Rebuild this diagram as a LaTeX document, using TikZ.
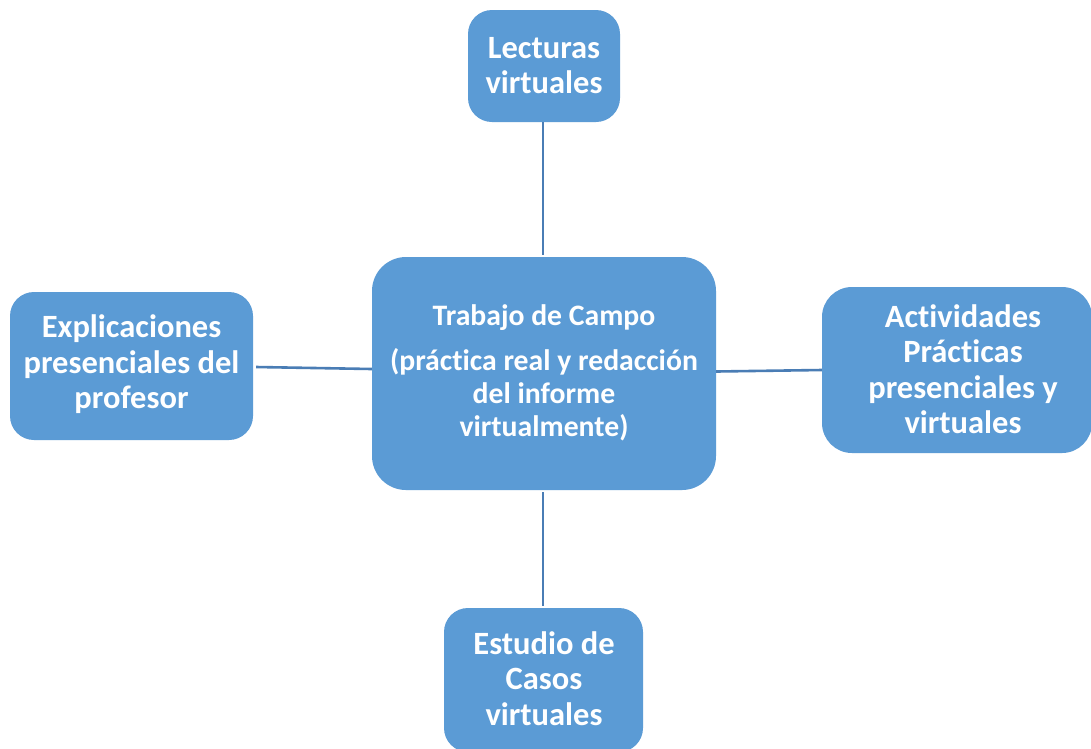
\documentclass[tikz,border=0pt]{standalone}
\usepackage{fontspec}
\setmainfont{Carlito}[RawFeature=-liga]
\definecolor{boxfill}{HTML}{5B9BD5}
\definecolor{linecol}{HTML}{4A7DB5}
\begin{document}
\begin{tikzpicture}[x=1pt,y=-1pt,
  box/.style={fill=boxfill,draw=none,rounded corners=#1,inner sep=0pt},
  box/.default=24pt,
  lbl/.style={text=white,align=center,font=\bfseries\fontsize{32.5}{35.5}\selectfont,inner sep=0pt},
  conn/.style={draw=linecol,line width=2.6pt}]
\useasboundingbox (0,0) rectangle (1091,748);
\clip (0,0) rectangle (1091,748);
\fill[white] (0,0) rectangle (1091,748);
% boxes
\node[box, minimum width=152pt, minimum height=112pt] (top) at (544,66) {};
\node[box=34pt, minimum width=344pt, minimum height=233pt] (mid) at (544,373.5) {};
\node[box, minimum width=243pt, minimum height=148pt] (left) at (131.5,366) {};
\node[box=30pt, minimum width=270pt, minimum height=166pt] (right) at (957,370) {};
\node[box, minimum width=199pt, minimum height=144pt] (bot) at (543.5,680) {};
% texts
\node[lbl] (ttop) at (544,65.5) {Lecturas\\virtuales};
\node[lbl] (tleft) at (131.5,364.5) {Explicaciones\\presenciales del\\profesor};
\node[lbl] (tright) at (963,369) {Actividades\\Prácticas\\presenciales y\\virtuales};
\node[lbl] (tbot) at (544,678.5) {Estudio de\\Casos\\virtuales};
\node[lbl, font=\bfseries\fontsize{29.7}{33}\selectfont] (tmid) at (544,373) {Trabajo de Campo\\[12pt](práctica real y redacción\\del informe\\virtualmente)};
% connectors
\draw[conn] (top.south) ++(-1,0) coordinate (a1) -- (a1 |- 0,255) coordinate (a2);
\draw[conn] (left.east) ++(3,1) -- ([yshift=4.5pt]mid.west);
\draw[conn] (mid.east) ++(0,-2) -- (right.west);
\draw[conn] (mid.south) ++(-1,2) coordinate (b1) -- (b1 |- 0,606);
\end{tikzpicture}
\end{document}
